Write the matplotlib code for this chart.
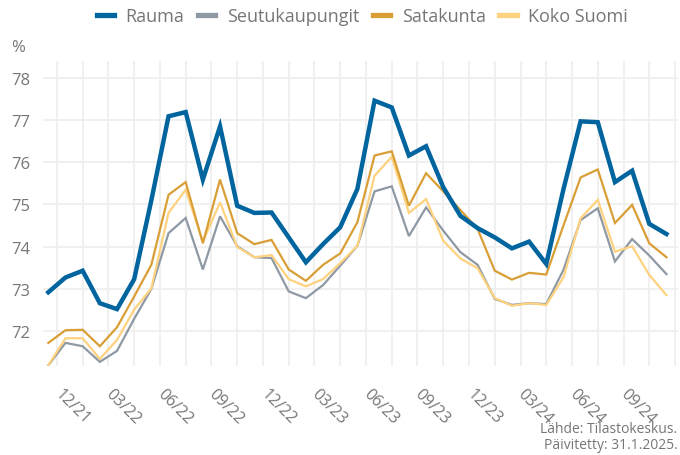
import matplotlib.pyplot as plt
from matplotlib.lines import Line2D
from matplotlib.ticker import FixedLocator

plt.rcParams['font.family'] = ['Open Sans', 'DejaVu Sans']

# Kuukausittaiset arvot 11/2021 - 11/2024
kuukaudet = ['11/21', '12/21', '01/22', '02/22', '03/22', '04/22', '05/22', '06/22', '07/22', '08/22',
             '09/22', '10/22', '11/22', '12/22', '01/23', '02/23', '03/23', '04/23', '05/23', '06/23',
             '07/23', '08/23', '09/23', '10/23', '11/23', '12/23', '01/24', '02/24', '03/24', '04/24',
             '05/24', '06/24', '07/24', '08/24', '09/24', '10/24', '11/24']

rauma = [72.92, 73.27, 73.43, 72.66, 72.52, 73.23, 75.1, 77.09, 77.19, 75.59,
         76.85, 74.97, 74.80, 74.81, 74.22, 73.63, 74.06, 74.46, 75.37, 77.46,
         77.30, 76.16, 76.38, 75.41, 74.73, 74.44, 74.22, 73.96, 74.12, 73.59,
         75.36, 76.97, 76.95, 75.53, 75.80, 74.54, 74.30]
seutukaupungit = [71.19, 71.72, 71.64, 71.27, 71.53, 72.29, 73.00, 74.32, 74.68, 73.46,
                  74.72, 74.01, 73.75, 73.73, 72.94, 72.78, 73.09, 73.55, 74.02, 75.31,
                  75.43, 74.25, 74.93, 74.38, 73.87, 73.57, 72.76, 72.62, 72.66, 72.64,
                  73.45, 74.63, 74.91, 73.65, 74.18, 73.79, 73.35]
satakunta = [71.72, 72.02, 72.03, 71.64, 72.09, 72.82, 73.57, 75.23, 75.53, 74.08,
             75.59, 74.32, 74.06, 74.16, 73.46, 73.19, 73.57, 73.84, 74.58, 76.16,
             76.26, 74.97, 75.74, 75.31, 74.87, 74.42, 73.43, 73.22, 73.38, 73.34,
             74.50, 75.64, 75.83, 74.56, 74.99, 74.08, 73.75]
koko_suomi = [71.19, 71.83, 71.83, 71.34, 71.79, 72.51, 73.01, 74.80, 75.35, 74.12,
              75.05, 73.99, 73.75, 73.80, 73.23, 73.06, 73.23, 73.61, 74.02, 75.68,
              76.13, 74.80, 75.13, 74.14, 73.72, 73.49, 72.78, 72.60, 72.66, 72.62,
              73.27, 74.67, 75.11, 73.88, 74.01, 73.33, 72.85]

sarjat = ['Rauma', 'Seutukaupungit', 'Satakunta', 'Koko Suomi']
arvot = [rauma, seutukaupungit, satakunta, koko_suomi]
varit = ['#00649e', '#8e99a4', '#d99f36', '#fed27e']
paksuus = [3.2, 1.6, 1.6, 1.6]

tekstivari = '#767676'

fig = plt.figure(figsize=(6.8, 4.56), dpi=100)
ax = fig.add_axes([0.063, 0.195, 0.934, 0.669])

x = list(range(len(kuukaudet)))
# piirretään taustalta eteen: Rauma päällimmäisenä
for i in [1, 3, 2, 0]:
    ax.plot(x, arvot[i], color=varit[i], lw=paksuus[i], solid_joinstyle='miter', zorder=3 + (i == 0))

# merkinnät kuukauden alkuun (joka kolmas kuukausi), pisteet kuukauden keskelle
tikit = [k - 0.5 for k in range(1, len(kuukaudet) + 1, 3)]
tikkinimet = [kuukaudet[k] if k < len(kuukaudet) else '' for k in range(1, len(kuukaudet) + 1, 3)]
ax.set_xticks(tikit)
ax.set_xticklabels(tikkinimet, rotation=-45, ha='left', va='center', rotation_mode='anchor',
                   fontsize=11.5, color=tekstivari)
ax.xaxis.set_minor_locator(FixedLocator([t + 1.5 for t in tikit[:-1]]))

ax.set_xlim(-0.32, 36.67)
ax.set_ylim(71.17, 78.4)
ax.set_yticks(range(72, 79))
ax.tick_params(axis='y', labelsize=12, labelcolor=tekstivari, length=0, pad=9)
ax.tick_params(axis='x', which='both', length=0, pad=18)

ax.grid(True, which='both', color='#efefef', lw=1.3)
ax.set_axisbelow(True)
for s in ax.spines.values():
    s.set_visible(False)

fig.text(0.017, 0.885, '%', fontsize=12, color=tekstivari)

kahvat = [Line2D([0], [0], color=c, lw=3.8) for c in varit]
fig.legend(kahvat, sarjat, loc='center', bbox_to_anchor=(0.533, 0.962), ncol=4, frameon=False,
           handlelength=0.95, handletextpad=0.65, columnspacing=0.75,
           labelcolor=tekstivari, prop={'size': 13})

fig.text(0.996, 0.006, 'Lähde: Tilastokeskus.\nPäivitetty: 31.1.2025.', ha='right', va='bottom',
         fontsize=10, color=tekstivari, linespacing=1.15)

fig.savefig('out.png', dpi=100)
